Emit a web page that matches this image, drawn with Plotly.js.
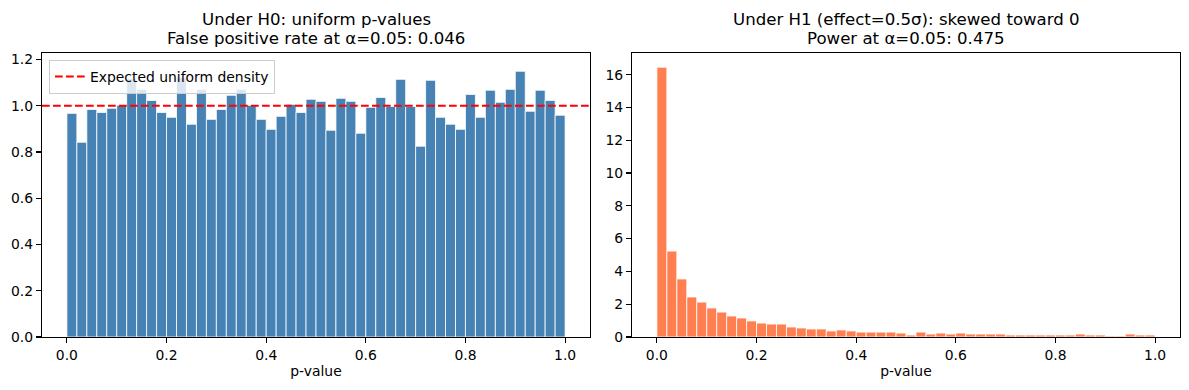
<!DOCTYPE html>
<html>
<head>
<meta charset="utf-8">
<script src="https://cdn.plot.ly/plotly-3.0.1.min.js"></script>
<style>html,body{margin:0;padding:0;background:#fff;}#chart{width:1189px;height:390px;}</style>
</head>
<body>
<div id="chart"></div>
<script>
// ---- data (bin densities) ----
const binCount = 50;
const h0Density = [0.967, 0.842, 0.984, 0.971, 0.989, 1.002, 1.117, 1.071, 1.023, 0.971,
                   0.950, 1.121, 0.920, 1.071, 0.941, 0.984, 1.045, 1.071, 1.002, 0.941,
                   0.898, 0.954, 1.006, 0.971, 1.028, 1.019, 0.894, 1.032, 1.019, 0.881,
                   0.993, 1.036, 0.997, 1.114, 0.997, 0.825, 1.110, 0.950, 0.920, 0.898,
                   1.049, 0.950, 1.067, 1.015, 1.071, 1.149, 0.976, 1.067, 1.023, 0.959];
const h1Density = [16.45, 5.24, 3.54, 2.44, 2.13, 1.77, 1.52, 1.28, 1.16, 0.98,
                   0.85, 0.79, 0.79, 0.61, 0.55, 0.49, 0.49, 0.37, 0.43, 0.37,
                   0.30, 0.30, 0.30, 0.30, 0.24, 0.12, 0.30, 0.18, 0.24, 0.18,
                   0.24, 0.18, 0.18, 0.18, 0.18, 0.12, 0.12, 0.12, 0.12, 0.12,
                   0.12, 0.12, 0.18, 0.12, 0.12, 0.06, 0.06, 0.18, 0.12, 0.12];
const expectedDensity = 1.0;
const titleH0 = ["Under H0: uniform p-values", "False positive rate at α=0.05: 0.046"];
const titleH1 = ["Under H1 (effect=0.5σ): skewed toward 0", "Power at α=0.05: 0.475"];
const xLabel = "p-value";
const legendLabel = "Expected uniform density";
const xTickVals = [0, 0.2, 0.4, 0.6, 0.8, 1.0];
const xTickText = ["0.0", "0.2", "0.4", "0.6", "0.8", "1.0"];
const y1TickVals = [0, 0.2, 0.4, 0.6, 0.8, 1.0, 1.2];
const y1TickText = ["0.0", "0.2", "0.4", "0.6", "0.8", "1.0", "1.2"];
const y2TickVals = [0, 2, 4, 6, 8, 10, 12, 14, 16];
const y2TickText = ["0", "2", "4", "6", "8", "10", "12", "14", "16"];

// ---- build ----
const binWidth = 1 / binCount;
const centers = Array.from({length: binCount}, (_, i) => (i + 0.5) * binWidth);

const FONT = "DejaVu Sans, sans-serif";
const TICK = 13.9, TITLE = 16.6;
const W = 1189, H = 390;
const dom1 = [42 / W, 590 / W], dom2 = [632 / W, 1180 / W];
const ydom = [53 / H, 337 / H];

const traces = [
  {type: "bar", x: centers, y: h0Density, width: binWidth, xaxis: "x", yaxis: "y",
   marker: {color: "#4682B4", line: {color: "#ffffff", width: 0.8}}, showlegend: false, hoverinfo: "skip"},
  {type: "bar", x: centers, y: h1Density, width: binWidth, xaxis: "x2", yaxis: "y2",
   marker: {color: "#FF7F50", line: {color: "#ffffff", width: 0.8}}, showlegend: false, hoverinfo: "skip"}
];

function xax(domain, anchor) {
  return {domain: domain, anchor: anchor, range: [-0.05, 1.05], tickvals: xTickVals, ticktext: xTickText,
          showline: true, mirror: true, linecolor: "#000", linewidth: 1.1, ticks: "outside", ticklen: 5,
          tickwidth: 1.1, tickcolor: "#000", showgrid: false, zeroline: false, automargin: false,
          tickfont: {family: FONT, size: TICK, color: "#000"},
          title: {text: xLabel, font: {family: FONT, size: TICK, color: "#000"}, standoff: 4}};
}
function yax(anchor, range, vals, texts) {
  return {domain: ydom, anchor: anchor, range: range, tickvals: vals, ticktext: texts,
          showline: true, mirror: true, linecolor: "#000", linewidth: 1.1, ticks: "outside", ticklen: 5,
          tickwidth: 1.1, tickcolor: "#000", showgrid: false, zeroline: false, automargin: false,
          tickfont: {family: FONT, size: TICK, color: "#000"}};
}

function titleAnn(text, xc, ycPx) {
  return {text: text, xref: "paper", yref: "paper", x: xc, y: 1 - ycPx / H, xanchor: "center", yanchor: "middle",
          showarrow: false, font: {family: FONT, size: TITLE, color: "#000"}};
}
const xc1 = (dom1[0] + dom1[1]) / 2, xc2 = (dom2[0] + dom2[1]) / 2;

const layout = {
  width: W, height: H,
  margin: {l: 0, r: 0, t: 0, b: 0},
  paper_bgcolor: "#fff", plot_bgcolor: "#fff",
  font: {family: FONT, color: "#000"},
  bargap: 0,
  xaxis: xax(dom1, "y"),
  yaxis: yax("x", [0, 1.228], y1TickVals, y1TickText),
  xaxis2: xax(dom2, "y2"),
  yaxis2: yax("x2", [0, 17.32], y2TickVals, y2TickText),
  shapes: [{type: "line", xref: "x domain", yref: "y", x0: 0, x1: 1, y0: expectedDensity, y1: expectedDensity,
            line: {color: "#ff0000", width: 2, dash: "7.7px,3.3px"}, showlegend: true, name: legendLabel, layer: "above"}],
  showlegend: true,
  legend: {x: 49 / W, y: 1 - 60 / H, xanchor: "left", yanchor: "top", bgcolor: "rgba(255,255,255,0.8)",
           bordercolor: "#cccccc", borderwidth: 1, font: {family: FONT, size: TICK, color: "#000"},
           itemwidth: 30, tracegroupgap: 0},
  annotations: [
    titleAnn(titleH0[0], xc1, 19), titleAnn(titleH0[1], xc1, 39),
    titleAnn(titleH1[0], xc2, 19), titleAnn(titleH1[1], xc2, 39)
  ]
};

Plotly.newPlot("chart", traces, layout, {displayModeBar: false, staticPlot: true});
</script>
</body>
</html>
